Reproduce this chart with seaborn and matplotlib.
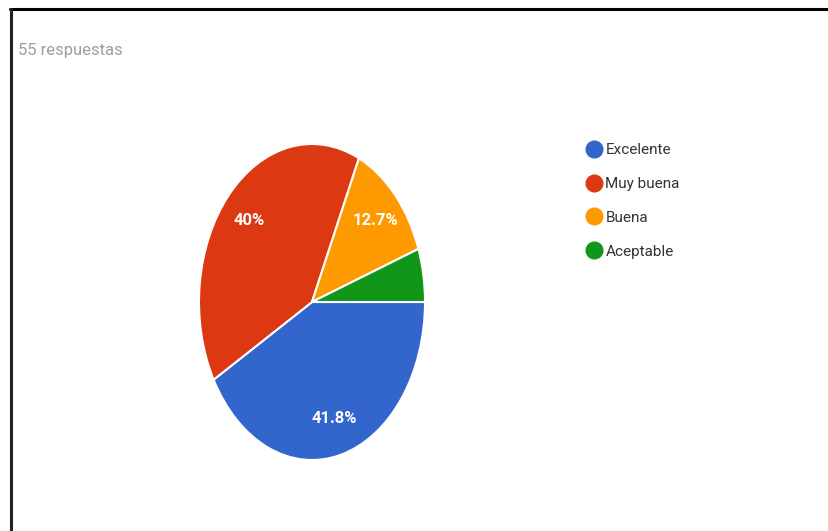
import matplotlib
matplotlib.use("Agg")
import matplotlib.pyplot as plt
from matplotlib.lines import Line2D
import seaborn as sns

# Survey data (55 answers)
categories = ['Excelente', 'Muy buena', 'Buena', 'Aceptable']
counts = [23, 22, 7, 3]
colors = ['#3366CC', '#DC3912', '#FF9900', '#109618']
total_label = '55 respuestas'

sns.set_style("white")
plt.rcParams['font.family'] = ['Roboto', 'DejaVu Sans']


def pct_label(p):
    # Google Forms hides the label of very small slices
    if p < 10:
        return ''
    return f'{p:.1f}'.rstrip('0').rstrip('.') + '%'


W, H = 829, 531
fig = plt.figure(figsize=(W / 100, H / 100), dpi=100)
fig.patch.set_facecolor('white')

# Pie axes placed in pixel terms (the pie is a stretched ellipse in the reference)
cx, cy, rx, ry = 312, 302, 113, 158
ax = fig.add_axes([(cx - rx) / W, (H - cy - ry) / H, 2 * rx / W, 2 * ry / H])
wedges, texts, autotexts = ax.pie(
    counts, colors=colors, startangle=0, counterclock=False,
    autopct=pct_label, pctdistance=0.76,
    wedgeprops=dict(edgecolor='white', linewidth=1.5),
    textprops=dict(color='white', fontsize=12, fontweight='bold'))
ax.set_aspect('auto')
ax.set_xlim(-1.0, 1.0)
ax.set_ylim(-1.0, 1.0)
ax.axis('off')

# Response count at the top left
fig.text(18 / W, 1 - 50 / H, total_label, fontsize=12, color='#9e9e9e', va='center')

# Legend with round markers
handles = [Line2D([], [], marker='o', ls='', markersize=12, markerfacecolor=c,
                  markeredgecolor=c) for c in colors]
fig.legend(handles, categories, loc='upper left', bbox_to_anchor=(578 / W, 1 - 137 / H),
           frameon=False, fontsize=11, labelcolor='#333333', handletextpad=0.1,
           labelspacing=1.3, handlelength=1.3, borderaxespad=0)

# Black frame lines at the top and left edges of the screenshot
fig.add_artist(Line2D([10 / W, 1], [1 - 9 / H, 1 - 9 / H], color='black', lw=2.2))
fig.add_artist(Line2D([11 / W, 11 / W], [0, 1 - 9 / H], color='#222222', lw=2.2))

plt.savefig('out.png', dpi=100)
